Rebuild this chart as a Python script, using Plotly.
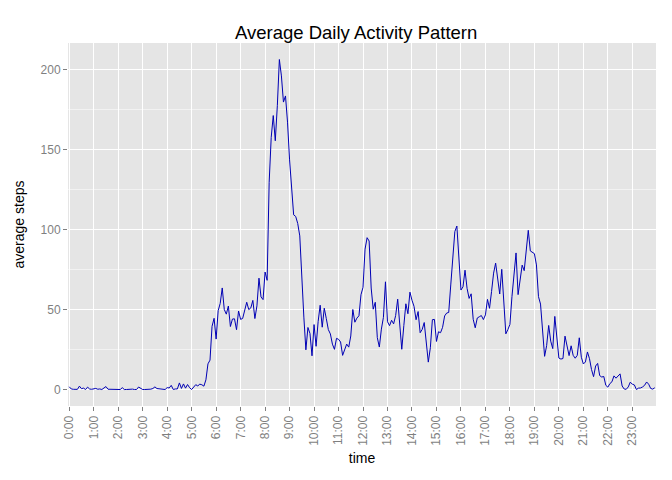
import plotly.graph_objects as go

# 5-minute intervals of the day (categories)
times = [f"{h}:{m:02d}" for h in range(24) for m in range(0, 60, 5)]

# average steps per 5-minute interval
steps = [
    1.717, 0.340, 0.132, 0.151, 0.075, 2.094, 0.528, 0.868, 0.000, 1.472, 0.302, 0.132,
    0.321, 0.679, 0.151, 0.340, 0.000, 1.113, 1.830, 0.170, 0.170, 0.377, 0.264, 0.000,
    0.000, 0.000, 1.132, 0.000, 0.000, 0.132, 0.000, 0.226, 0.000, 0.000, 1.547, 0.943,
    0.000, 0.000, 0.000, 0.000, 0.208, 0.623, 1.623, 0.585, 0.491, 0.075, 0.000, 0.000,
    1.189, 0.943, 2.566, 0.000, 0.340, 0.358, 4.113, 0.660, 3.491, 0.830, 3.113, 1.113,
    0.000, 1.566, 3.000, 2.245, 3.321, 2.962, 2.094, 6.057, 16.019, 18.340, 39.453, 44.491,
    31.491, 49.264, 53.774, 63.453, 49.962, 47.075, 52.151, 39.340, 44.019, 44.170, 37.358, 49.038,
    43.811, 44.377, 50.509, 54.509, 49.925, 50.981, 55.679, 44.321, 52.264, 69.547, 57.849, 56.151,
    73.377, 68.208, 129.434, 157.528, 171.151, 155.396, 177.302, 206.170, 195.925, 179.566, 183.396, 167.019,
    143.453, 124.038, 109.113, 108.113, 103.717, 95.962, 66.208, 45.226, 24.792, 38.755, 34.981, 21.057,
    40.566, 26.981, 42.415, 52.660, 38.925, 50.792, 44.283, 37.415, 34.698, 28.340, 25.094, 31.943,
    31.358, 29.679, 21.321, 25.547, 28.377, 26.472, 33.434, 49.981, 42.038, 44.604, 46.038, 59.189,
    63.868, 87.698, 94.849, 92.774, 63.396, 50.170, 54.472, 32.415, 26.528, 37.736, 45.057, 67.283,
    42.340, 39.887, 43.264, 40.981, 46.245, 56.434, 42.755, 25.132, 39.962, 53.547, 47.321, 60.811,
    55.755, 51.962, 43.585, 48.698, 35.472, 37.547, 41.849, 27.509, 17.113, 26.075, 43.623, 43.774,
    30.019, 36.075, 35.491, 38.849, 45.962, 47.755, 48.132, 65.321, 82.906, 98.660, 102.113, 83.962,
    62.132, 64.132, 74.547, 63.170, 56.906, 59.774, 43.868, 38.566, 44.660, 45.453, 46.208, 43.679,
    46.623, 56.302, 50.717, 61.226, 72.717, 78.943, 68.943, 59.660, 75.094, 56.509, 34.774, 37.453,
    40.679, 58.019, 74.698, 85.321, 59.264, 67.774, 77.698, 74.245, 85.340, 99.453, 86.585, 85.604,
    84.868, 77.830, 58.038, 53.358, 36.321, 20.717, 27.396, 40.019, 30.208, 25.547, 45.660, 33.528,
    19.623, 19.019, 19.340, 33.340, 26.811, 21.170, 27.302, 21.340, 19.547, 21.321, 32.302, 20.151,
    15.943, 17.226, 23.453, 19.245, 12.453, 8.019, 14.660, 16.302, 8.679, 7.792, 8.132, 2.623,
    1.453, 3.679, 4.811, 8.509, 7.075, 8.698, 9.755, 2.208, 0.321, 0.113, 1.604, 4.604,
    3.302, 2.849, 0.000, 0.830, 0.962, 1.585, 2.604, 4.698, 3.302, 0.642, 0.226, 1.075,
]

hour_ticks = [f"{h}:00" for h in range(24)]
y_ticks = [0, 50, 100, 150, 200]

fig = go.Figure()
fig.add_trace(go.Scatter(
    x=times, y=steps, mode="lines",
    line=dict(color="#0000B4", width=1),
    showlegend=False, hoverinfo="x+y",
))

ymax = max(steps)
pad = 0.05 * ymax

fig.update_layout(
    width=672, height=480,
    margin=dict(l=60, r=24, t=35, b=82),
    paper_bgcolor="white",
    plot_bgcolor="#E5E5E5",
    font=dict(family="Liberation Sans, Arial, sans-serif", color="black"),
    title=dict(text="Average Daily Activity Pattern", xref="paper", x=0.49, xanchor="center",
               y=0.948, yanchor="middle", font=dict(size=18.5, color="black")),
    xaxis=dict(
        type="category",
        categoryorder="array", categoryarray=times,
        range=[-0.6, len(times) - 0.4],
        tickmode="array", tickvals=hour_ticks, ticktext=hour_ticks,
        tickangle=-90,
        tickfont=dict(size=12, color="#7F7F7F"),
        ticks="outside", ticklen=4, tickcolor="#7F7F7F", tickwidth=1,
        showgrid=True, gridcolor="white", gridwidth=1.1,
        zeroline=False, showline=False,
        title=dict(text="time", font=dict(size=14, color="black"), standoff=8),
    ),
    yaxis=dict(
        range=[-pad, ymax + pad],
        tickmode="array", tickvals=y_ticks,
        tickfont=dict(size=12, color="#7F7F7F"),
        ticks="outside", ticklen=4, tickcolor="#7F7F7F", tickwidth=1,
        showgrid=True, gridcolor="white", gridwidth=1.1,
        minor=dict(tickmode="array", tickvals=[25, 75, 125, 175],
                   showgrid=True, gridcolor="#F2F2F2", gridwidth=0.6, ticks=""),
        zeroline=False, showline=False,
        title=dict(text="average steps", font=dict(size=14, color="black"), standoff=12),
    ),
)

fig.write_html("out.html")
